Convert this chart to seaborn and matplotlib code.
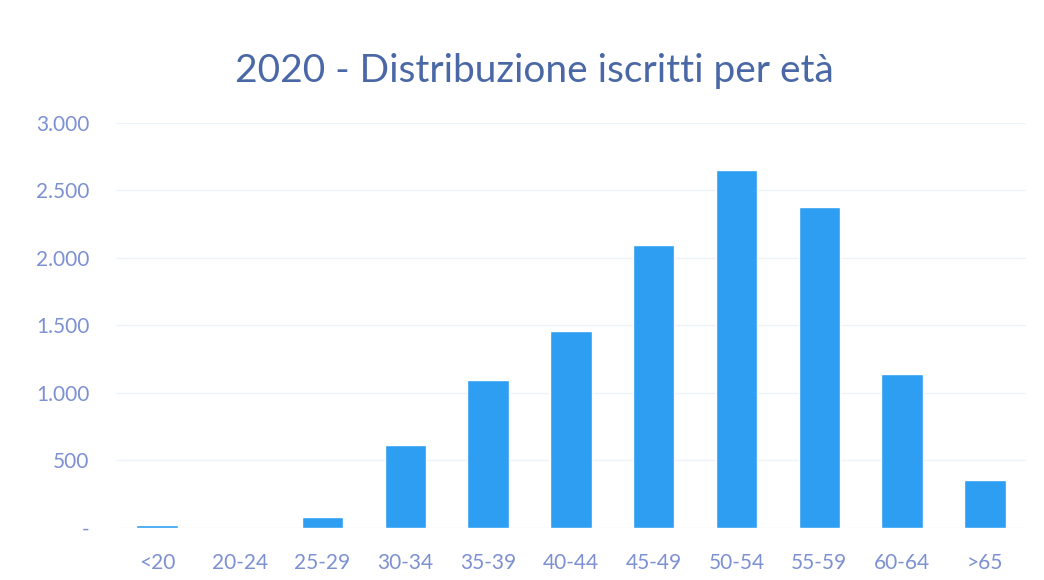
import matplotlib
matplotlib.use("Agg")
import matplotlib.pyplot as plt
import seaborn as sns
import pandas as pd
from matplotlib.ticker import FuncFormatter

categories = ["<20", "20-24", "25-29", "30-34", "35-39", "40-44", "45-49", "50-54", "55-59", "60-64", ">65"]
iscritti = [20, 0, 80, 615, 1095, 1460, 2095, 2650, 2375, 1140, 355]
title = "2020 - Distribuzione iscritti per età"

sns.set_theme(style="white")
plt.rcParams['font.family'] = ['Lato', 'DejaVu Sans']

df = pd.DataFrame({"eta": categories, "iscritti": iscritti})

fig = plt.figure(figsize=(10.44, 5.8), dpi=100)
ax = fig.add_axes([0.1107, 0.0897, 0.8723, 0.6983])

sns.barplot(data=df, x="eta", y="iscritti", color="#2e9ef2", width=0.5, ax=ax, saturation=1)

ax.set_ylim(0, 3000)
ax.set_xlim(-0.5, len(categories) - 0.5)
ax.set_yticks([0, 500, 1000, 1500, 2000, 2500, 3000])

def fmt(v, pos):
    if v == 0:
        return "-"
    return f"{int(v):,}".replace(",", ".")

ax.yaxis.set_major_formatter(FuncFormatter(fmt))
ax.yaxis.grid(True, color="#eef3fa", linewidth=1)
ax.set_axisbelow(True)
for s in ax.spines.values():
    s.set_visible(False)
ax.set_xlabel("")
ax.set_ylabel("")
ax.tick_params(axis="both", length=0, labelsize=15, colors="#7d90d2")
ax.tick_params(axis="y", pad=19)
ax.tick_params(axis="x", pad=18)

fig.text(0.512, 0.878, title, ha="center", va="center", fontsize=28, color="#4a68a6")

fig.savefig("out.png", dpi=100, facecolor="white")
